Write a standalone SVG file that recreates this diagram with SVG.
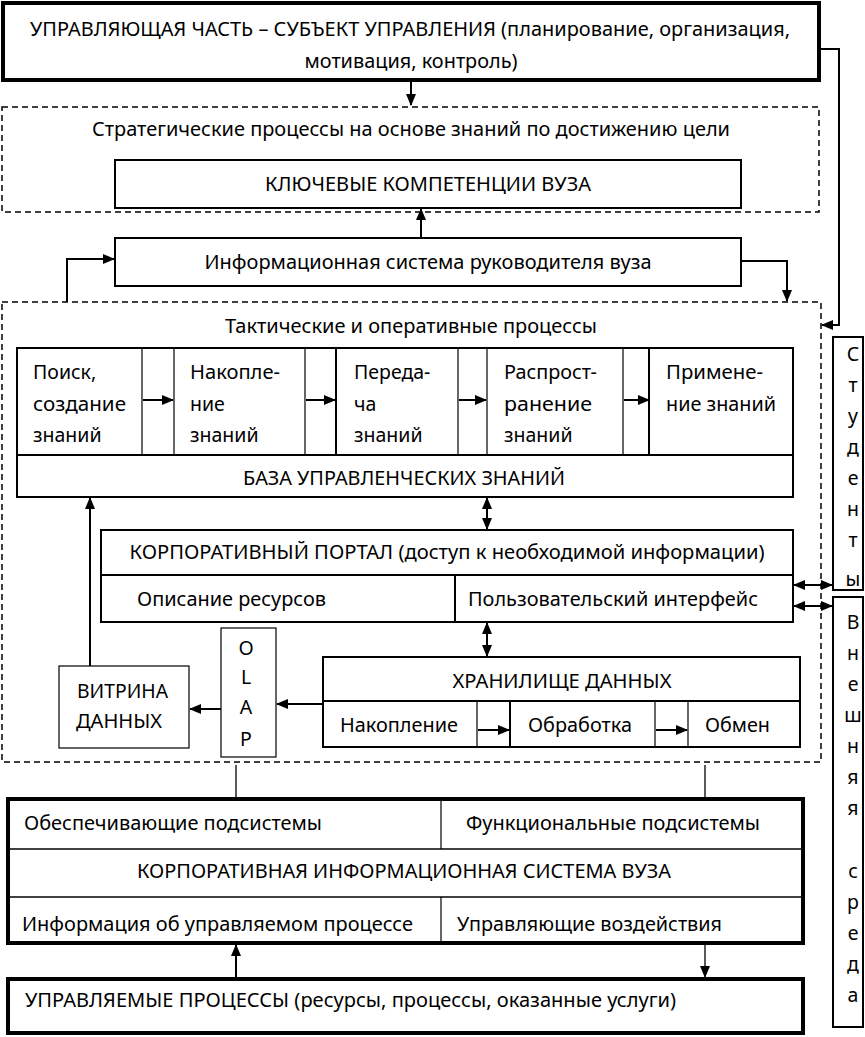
<svg xmlns="http://www.w3.org/2000/svg" width="865" height="1037" viewBox="0 0 865 1037">
<style>
text{font-family:"Noto Sans","Open Sans","DejaVu Sans",sans-serif;font-size:19.5px;fill:#000}
.c{text-anchor:middle}
.p{font-size:19.5px}
.thick{fill:#fff;stroke:#000;stroke-width:4}
.box{fill:#fff;stroke:#000;stroke-width:2}
.thin{fill:none;stroke:#000;stroke-width:1.2}
.dash{fill:none;stroke:#000;stroke-width:1.5;stroke-dasharray:6 4}
.con{fill:none;stroke:#000;stroke-width:2}
.con1{fill:none;stroke:#000;stroke-width:1.3}
</style>
<defs>
<marker id="ah" markerUnits="userSpaceOnUse" markerWidth="12" markerHeight="10" refX="11" refY="5" orient="auto-start-reverse"><path d="M0,0 L12,5 L0,10 Z" fill="#000"/></marker>
</defs>
<rect width="865" height="1037" fill="#fff"/>

<g id="upravl">
<rect class="thick" x="3" y="3" width="816" height="77"/>
<text x="410" y="36" class="c" textLength="760" lengthAdjust="spacingAndGlyphs">УПРАВЛЯЮЩАЯ ЧАСТЬ – СУБЪЕКТ УПРАВЛЕНИЯ (планирование, организация,</text>
<text x="411" y="68" class="c" textLength="213" lengthAdjust="spacingAndGlyphs">мотивация, контроль)</text>
</g>

<g id="strateg">
<rect class="dash" x="2" y="107" width="817" height="105"/>
<text x="411" y="136" class="c" textLength="638" lengthAdjust="spacingAndGlyphs">Стратегические процессы на основе знаний по достижению цели</text>
</g>
<g id="kompet">
<rect class="box" x="115" y="160" width="626" height="48"/>
<text x="428" y="191" class="c" textLength="326" lengthAdjust="spacingAndGlyphs">КЛЮЧЕВЫЕ КОМПЕТЕНЦИИ ВУЗА</text>
</g>
<g id="isr">
<rect class="box" x="115" y="238" width="626" height="48"/>
<text x="428" y="269" class="c" textLength="447" lengthAdjust="spacingAndGlyphs">Информационная система руководителя вуза</text>
</g>

<g id="taktich">
<rect class="dash" x="2" y="302" width="819" height="460"/>
<text x="411" y="333" class="c" textLength="372" lengthAdjust="spacingAndGlyphs">Тактические и оперативные процессы</text>
</g>

<g id="processes">
<rect class="box" x="17" y="348" width="776" height="149"/>
<line class="thin" x1="17" y1="455" x2="793" y2="455" style="stroke-width:2"/>
<line class="thin" x1="142" y1="348" x2="142" y2="455"/>
<line class="thin" x1="174" y1="348" x2="174" y2="455"/>
<line class="thin" x1="305" y1="348" x2="305" y2="455"/>
<line class="thin" x1="336" y1="348" x2="336" y2="455" style="stroke-width:2"/>
<line class="thin" x1="458" y1="348" x2="458" y2="455"/>
<line class="thin" x1="487" y1="348" x2="487" y2="455"/>
<line class="thin" x1="623" y1="348" x2="623" y2="455"/>
<line class="thin" x1="649" y1="348" x2="649" y2="455" style="stroke-width:2"/>
<text class="p" x="33" y="379">Поиск,</text>
<text class="p" x="33" y="411" textLength="93" lengthAdjust="spacingAndGlyphs">создание</text>
<text class="p" x="33" y="442">знаний</text>
<text class="p" x="190" y="379" textLength="90" lengthAdjust="spacingAndGlyphs">Накопле-</text>
<text class="p" x="190" y="411">ние</text>
<text class="p" x="190" y="442">знаний</text>
<text class="p" x="354" y="379">Переда-</text>
<text class="p" x="354" y="411">ча</text>
<text class="p" x="354" y="442">знаний</text>
<text class="p" x="504" y="379" textLength="93" lengthAdjust="spacingAndGlyphs">Распрост-</text>
<text class="p" x="504" y="411" textLength="88" lengthAdjust="spacingAndGlyphs">ранение</text>
<text class="p" x="504" y="442">знаний</text>
<text class="p" x="666" y="379" textLength="97" lengthAdjust="spacingAndGlyphs">Примене-</text>
<text class="p" x="666" y="411" textLength="110" lengthAdjust="spacingAndGlyphs">ние знаний</text>
<text x="404" y="485" class="c" textLength="322" lengthAdjust="spacingAndGlyphs">БАЗА УПРАВЛЕНЧЕСКИХ ЗНАНИЙ</text>
</g>

<g id="portal">
<rect class="box" x="101" y="530" width="692" height="92"/>
<line class="thin" x1="101" y1="575" x2="793" y2="575" style="stroke-width:2"/>
<line class="thin" x1="455" y1="575" x2="455" y2="622" style="stroke-width:2"/>
<text x="447" y="559" class="c" textLength="635" lengthAdjust="spacingAndGlyphs">КОРПОРАТИВНЫЙ ПОРТАЛ (доступ к необходимой информации)</text>
<text x="137" y="606" textLength="189" lengthAdjust="spacingAndGlyphs">Описание ресурсов</text>
<text x="468" y="606" textLength="290" lengthAdjust="spacingAndGlyphs">Пользовательский интерфейс</text>
</g>

<g id="olap">
<rect class="thin" x="221" y="628" width="55" height="129"/>
<text x="246" y="655" class="c">O</text>
<text x="246" y="684" class="c">L</text>
<text x="246" y="714" class="c">A</text>
<text x="246" y="746" class="c">P</text>
</g>

<g id="vitrina">
<rect class="thin" x="59" y="666" width="130" height="82"/>
<text x="77" y="698" textLength="91" lengthAdjust="spacingAndGlyphs">ВИТРИНА</text>
<text x="76" y="728" textLength="86" lengthAdjust="spacingAndGlyphs">ДАННЫХ</text>
</g>

<g id="hranilishche">
<rect class="box" x="323" y="657" width="477" height="90"/>
<line class="thin" x1="323" y1="701" x2="800" y2="701" style="stroke-width:2"/>
<line class="thin" x1="477" y1="701" x2="477" y2="747"/>
<line class="thin" x1="510" y1="701" x2="510" y2="747" style="stroke-width:2"/>
<line class="thin" x1="655" y1="701" x2="655" y2="747"/>
<line class="thin" x1="688" y1="701" x2="688" y2="747"/>
<text x="562" y="688" class="c" textLength="219" lengthAdjust="spacingAndGlyphs">ХРАНИЛИЩЕ ДАННЫХ</text>
<text x="340" y="732" textLength="118" lengthAdjust="spacingAndGlyphs">Накопление</text>
<text x="528" y="732" textLength="104" lengthAdjust="spacingAndGlyphs">Обработка</text>
<text x="705" y="732" textLength="65" lengthAdjust="spacingAndGlyphs">Обмен</text>
</g>

<g id="kis">
<rect class="thick" x="8" y="799" width="795" height="144"/>
<line class="thin" x1="8" y1="849" x2="803" y2="849" style="stroke-width:1.5"/>
<line class="thin" x1="8" y1="897" x2="803" y2="897" style="stroke-width:1.5"/>
<line class="thin" x1="441" y1="799" x2="441" y2="849"/>
<line class="thin" x1="441" y1="897" x2="441" y2="943"/>
<text x="24" y="830" textLength="298" lengthAdjust="spacingAndGlyphs">Обеспечивающие подсистемы</text>
<text x="466" y="830" textLength="294" lengthAdjust="spacingAndGlyphs">Функциональные подсистемы</text>
<text x="404" y="878" class="c" textLength="534" lengthAdjust="spacingAndGlyphs">КОРПОРАТИВНАЯ ИНФОРМАЦИОННАЯ СИСТЕМА ВУЗА</text>
<text x="22" y="931" textLength="391" lengthAdjust="spacingAndGlyphs">Информация об управляемом процессе</text>
<text x="457" y="931" textLength="265" lengthAdjust="spacingAndGlyphs">Управляющие воздействия</text>
</g>

<g id="upravlyaemye">
<rect class="thick" x="8" y="979" width="795" height="54"/>
<text x="25" y="1007" textLength="651" lengthAdjust="spacingAndGlyphs">УПРАВЛЯЕМЫЕ ПРОЦЕССЫ (ресурсы, процессы, оказанные услуги)</text>
</g>

<g id="studenty">
<rect class="box" x="833" y="337" width="30" height="253"/>
<text x="853" y="361" class="c">С</text>
<text x="853" y="392" class="c">т</text>
<text x="853" y="423" class="c">у</text>
<text x="853" y="454" class="c">д</text>
<text x="853" y="485" class="c">е</text>
<text x="853" y="516" class="c">н</text>
<text x="853" y="547" class="c">т</text>
<text x="853" y="586" class="c">ы</text>
</g>

<g id="vneshnyaya">
<rect class="box" x="833" y="597" width="30" height="430"/>
<text x="853" y="629" class="c">В</text>
<text x="853" y="660" class="c">н</text>
<text x="853" y="691" class="c">е</text>
<text x="853" y="722" class="c">ш</text>
<text x="853" y="753" class="c">н</text>
<text x="853" y="784" class="c">я</text>
<text x="853" y="815" class="c">я</text>
<text x="853" y="878" class="c">с</text>
<text x="853" y="909" class="c">р</text>
<text x="853" y="940" class="c">е</text>
<text x="853" y="971" class="c">д</text>
<text x="853" y="1002" class="c">а</text>
</g>

<g id="connectors">
<path class="con" d="M411,82 V105" marker-end="url(#ah)"/>
<path class="con" d="M819,49 H839 V325 H822" marker-end="url(#ah)"/>
<path class="con" d="M421,238 V209" marker-end="url(#ah)"/>
<path class="con" d="M67,302 V259 H114" marker-end="url(#ah)"/>
<path class="con" d="M741,261 H787 V301" marker-end="url(#ah)"/>
<path class="con" d="M143,400 H173" marker-end="url(#ah)"/>
<path class="con" d="M306,400 H335" marker-end="url(#ah)"/>
<path class="con" d="M459,400 H486" marker-end="url(#ah)"/>
<path class="con" d="M624,400 H649" marker-end="url(#ah)"/>
<path class="con" d="M487,498 V529" marker-start="url(#ah)" marker-end="url(#ah)"/>
<path class="con" d="M487,623 V656" marker-start="url(#ah)" marker-end="url(#ah)"/>
<path class="con" d="M90,666 V498" marker-end="url(#ah)"/>
<path class="con" d="M323,704 H277" marker-end="url(#ah)"/>
<path class="con" d="M221,709 H190" marker-end="url(#ah)"/>
<path class="con" d="M478,730 H509" marker-end="url(#ah)"/>
<path class="con" d="M656,730 H687" marker-end="url(#ah)"/>
<path class="con" d="M794,585 H832" marker-start="url(#ah)" marker-end="url(#ah)"/>
<path class="con" d="M794,606 H832" marker-start="url(#ah)" marker-end="url(#ah)"/>
<path class="con1" d="M236,765 V797"/>
<path class="con1" d="M705,765 V797"/>
<path class="con" d="M236,977 V945" marker-end="url(#ah)"/>
<path class="con1" d="M705,945 V977" marker-end="url(#ah)"/>
</g>
</svg>
